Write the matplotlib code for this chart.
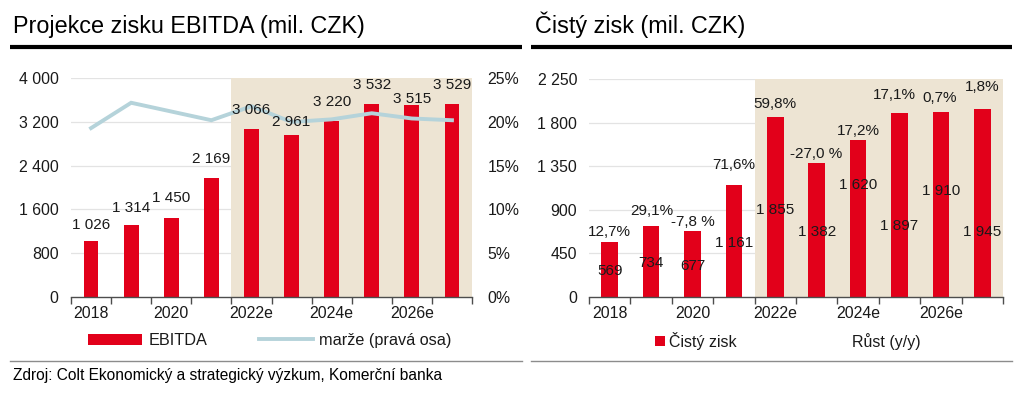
import matplotlib
matplotlib.use("Agg")
import matplotlib.pyplot as plt
from matplotlib.lines import Line2D
from matplotlib.ticker import FixedLocator, FuncFormatter

# ---------------- data ----------------
years = ["2018", "2019", "2020", "2021", "2022e", "2023e", "2024e", "2025e", "2026e", "2027e"]
ebitda = [1026, 1314, 1450, 2169, 3066, 2961, 3220, 3532, 3515, 3529]
margin_pct = [19.3, 22.2, 21.2, 20.2, 21.8, 20.0, 20.3, 21.0, 20.4, 20.2]
net_profit = [569, 734, 677, 1161, 1855, 1382, 1620, 1897, 1910, 1945]
growth_labels = ["12,7%", "29,1%", "-7,8 %", "71,6%", "59,8%", "-27,0 %", "17,2%", "17,1%", "0,7%", "1,8%"]
forecast_start = 4

title_left = "Projekce zisku EBITDA (mil. CZK)"
title_right = "Čistý zisk (mil. CZK)"
source = "Zdroj: Colt Ekonomický a strategický výzkum, Komerční banka"

# label placement tweaks (pixels)
ebitda_label_dy = [16, 17, 19.5, 19, 19, 13, 19, 19, 6, 19]
growth_label_dy = [9.5, 15, 9, 20, 13.5, 9, 9, 18, 14, 21.5]
growth_label_dx = [0, 1, 0, 0, 0, -1, 0, -5, -1, 0]
value_label_dy = [-2, -2, -2, -2, -3, -2, 33, -21, 13, -29.5]

# ---------------- style ----------------
RED = "#E2001A"
BEIGE = "#EDE4D3"
LINEC = "#B5D3DA"
GRID = "#E3E3E3"
AXC = "#4D4D4D"
TXT = "#1A1A1A"
FS = 11
TFS = 11.4

plt.rcParams["font.family"] = ["Liberation Sans", "DejaVu Sans"]
plt.rcParams["text.color"] = TXT

W, H = 1024, 393
fig = plt.figure(figsize=(W / 100, H / 100), dpi=100)
fig.patch.set_facecolor("white")


def fx(px):
    return px / W


def fy(py):
    return 1 - py / H


def add_axes_px(x0, x1, ytop, ybot):
    return fig.add_axes([fx(x0), fy(ybot), fx(x1) - fx(x0), fy(ytop) - fy(ybot)])


def thousands(v, _=None):
    return f"{int(round(v)):,}".replace(",", " ")


n = len(years)
xs = list(range(n))


def style_axis(ax, ymax, step, pad_left):
    ax.set_xlim(-0.5, n - 0.5)
    ax.set_ylim(0, ymax)
    for s in ["top", "right", "left"]:
        ax.spines[s].set_visible(False)
    ax.spines["bottom"].set_color(AXC)
    ax.spines["bottom"].set_linewidth(1.0)
    ax.spines["bottom"].set_zorder(5)
    yt = [step * i for i in range(int(round(ymax / step)) + 1)]
    ax.yaxis.set_major_locator(FixedLocator(yt))
    ax.yaxis.set_major_formatter(FuncFormatter(thousands))
    ax.tick_params(axis="y", length=0, pad=pad_left, labelsize=TFS, labelcolor=TXT)
    for v in yt[1:]:
        ax.axhline(v, color=GRID, lw=0.9, zorder=0)
    ax.xaxis.set_major_locator(FixedLocator(xs[::2]))
    ax.set_xticklabels(years[::2])
    ax.xaxis.set_minor_locator(FixedLocator([i - 0.5 for i in range(n + 1)]))
    ax.tick_params(axis="x", which="major", length=0, pad=7, labelsize=TFS, labelcolor=TXT)
    ax.tick_params(axis="x", which="minor", length=5, width=1.0, color=AXC, direction="out")
    ax.axvspan(forecast_start - 0.5, n - 0.5, color=BEIGE, lw=0, zorder=0.6)
    ax.patch.set_alpha(0)


# ---------------- headers ----------------
fig.text(fx(13), fy(33.5), title_left, fontsize=16.8, va="baseline", ha="left", color="black")
fig.text(fx(535), fy(33.5), title_right, fontsize=16.8, va="baseline", ha="left", color="black")
fig.add_artist(Line2D([fx(10), fx(522)], [fy(46.7)] * 2, color="black", lw=3.0, solid_capstyle="butt"))
fig.add_artist(Line2D([fx(531), fx(1012)], [fy(46.7)] * 2, color="black", lw=3.0, solid_capstyle="butt"))
fig.add_artist(Line2D([fx(10), fx(522)], [fy(361)] * 2, color="#8C8C8C", lw=1.0))
fig.add_artist(Line2D([fx(531), fx(1012)], [fy(361)] * 2, color="#8C8C8C", lw=1.0))
fig.text(fx(13), fy(380), source, fontsize=11.2, va="baseline", ha="left", color="black")

# ---------------- left chart ----------------
axL = add_axes_px(71, 472, 78.3, 296.7)
style_axis(axL, 4000, 800, 9)
bars_l = axL.bar(xs, ebitda, width=0.37, color=RED, zorder=2, label="EBITDA")

axL2 = axL.twinx()
axL2.set_ylim(0, 25)
axL2.yaxis.set_major_locator(FixedLocator([0, 5, 10, 15, 20, 25]))
axL2.yaxis.set_major_formatter(FuncFormatter(lambda v, _: f"{v:.0f}%"))
axL2.tick_params(axis="y", length=0, pad=11, labelsize=TFS, labelcolor=TXT)
for s in axL2.spines.values():
    s.set_visible(False)
line_m, = axL2.plot(xs, margin_pct, color=LINEC, lw=2.8, zorder=3, label="marže (pravá osa)",
                    solid_joinstyle="miter")

for x, v, dy in zip(xs, ebitda, ebitda_label_dy):
    axL2.annotate(thousands(v), xy=(x, v), xycoords=axL.transData,
                  xytext=(0, dy), textcoords="offset pixels",
                  ha="center", va="center", fontsize=FS, color=TXT, zorder=6)

legL = axL.legend(handles=[bars_l, line_m], loc="center left",
                  bbox_to_anchor=(fx(88), fy(340.5)), bbox_transform=fig.transFigure,
                  ncol=2, frameon=False, fontsize=11.7, borderpad=0, borderaxespad=0,
                  handlelength=3.3, handleheight=0.65, handletextpad=0.4, columnspacing=3.2)

# ---------------- right chart ----------------
axR = add_axes_px(589, 1003, 79.3, 296.7)
style_axis(axR, 2250, 450, 8.5)
bars_r = axR.bar(xs, net_profit, width=0.4, color=RED, zorder=2, label="Čistý zisk")

for x, v, dy in zip(xs, net_profit, value_label_dy):
    axR.annotate(thousands(v), xy=(x, v / 2), xytext=(0, dy), textcoords="offset pixels",
                 ha="center", va="center", fontsize=FS, color=TXT, zorder=6)
for x, v, lab, dy, dx in zip(xs, net_profit, growth_labels, growth_label_dy, growth_label_dx):
    axR.annotate(lab, xy=(x, v), xytext=(dx, dy), textcoords="offset pixels",
                 ha="center", va="center", fontsize=FS, color=TXT, zorder=6)

growth_handle = Line2D([], [], linestyle="none", label="Růst (y/y)")
legR = axR.legend(handles=[bars_r, growth_handle], loc="center left",
                  bbox_to_anchor=(fx(655), fy(340.5)), bbox_transform=fig.transFigure,
                  ncol=2, frameon=False, fontsize=11.5, borderpad=0, borderaxespad=0,
                  handlelength=0.6, handleheight=0.6, handletextpad=0.25, columnspacing=6.4)

fig.savefig("out.png", dpi=100, facecolor="white")
